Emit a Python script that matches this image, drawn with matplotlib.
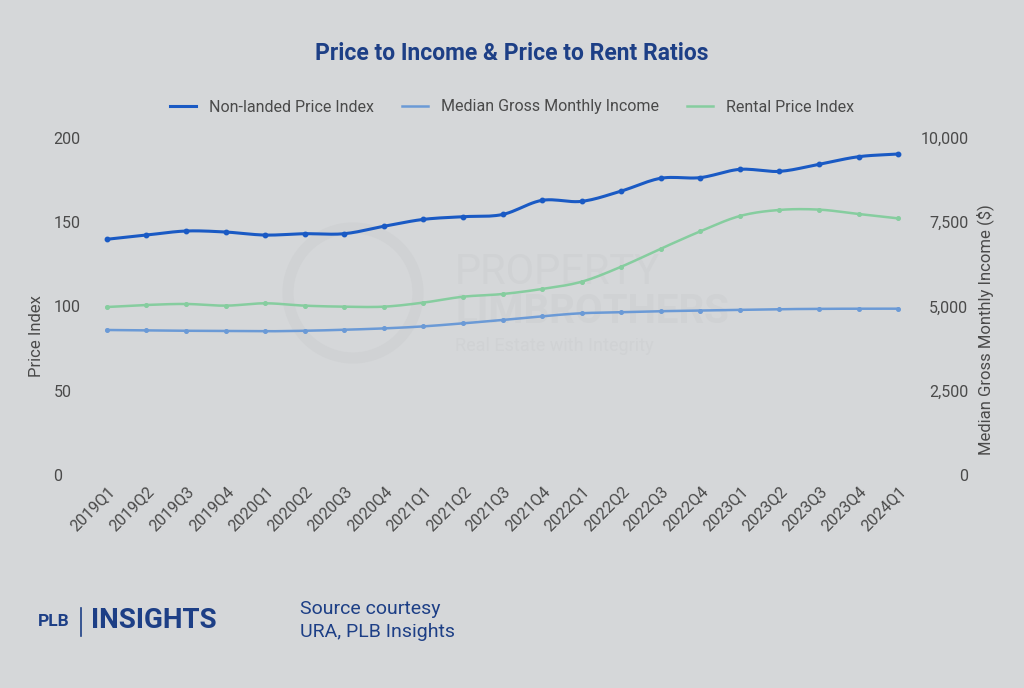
import numpy as np
import matplotlib.pyplot as plt
from matplotlib.patches import Ellipse

quarters = ['2019Q1', '2019Q2', '2019Q3', '2019Q4', '2020Q1', '2020Q2', '2020Q3',
            '2020Q4', '2021Q1', '2021Q2', '2021Q3', '2021Q4', '2022Q1', '2022Q2',
            '2022Q3', '2022Q4', '2023Q1', '2023Q2', '2023Q3', '2023Q4', '2024Q1']

price_index = [139.9, 142.4, 144.8, 144.2, 142.4, 143.2, 143.2, 147.6, 151.7, 153.3,
               154.6, 163.0, 162.4, 168.5, 176.1, 176.5, 181.4, 180.2, 184.4, 188.9, 190.5]

income = [4303, 4290, 4280, 4275, 4265, 4280, 4310, 4350, 4410, 4500, 4600,
          4710, 4800, 4830, 4860, 4880, 4900, 4920, 4930, 4935, 4935]

rental_index = [99.7, 100.9, 101.5, 100.5, 101.9, 100.5, 99.9, 99.9, 102.3, 105.8,
                107.4, 110.4, 114.7, 123.6, 134.3, 144.6, 153.7, 157.3, 157.5, 154.9, 152.3]

BG = '#d5d7d9'
NAVY = '#1d3f86'
C_PRICE = '#1a5ac4'
C_INC = '#6b9ad6'
C_RENT = '#86cd9f'
GREY = '#4a4a4a'
WM = '#d0d2d4'

plt.rcParams['font.family'] = ['Roboto', 'DejaVu Sans']


def smooth(x, y, n=12):
    # catmull-rom curve through the points, only for drawing
    x = np.asarray(x, float)
    y = np.asarray(y, float)
    px = np.concatenate([[2 * x[0] - x[1]], x, [2 * x[-1] - x[-2]]])
    py = np.concatenate([[2 * y[0] - y[1]], y, [2 * y[-1] - y[-2]]])
    xs, ys = [], []
    t = np.linspace(0, 1, n, endpoint=False)
    for i in range(1, len(px) - 2):
        for p, out in ((px, xs), (py, ys)):
            p0, p1, p2, p3 = p[i - 1], p[i], p[i + 1], p[i + 2]
            out.extend(0.5 * (2 * p1 + (-p0 + p2) * t + (2 * p0 - 5 * p1 + 4 * p2 - p3) * t ** 2
                              + (-p0 + 3 * p1 - 3 * p2 + p3) * t ** 3))
    xs.append(x[-1])
    ys.append(y[-1])
    return np.array(xs), np.array(ys)


fig = plt.figure(figsize=(10.24, 6.88), dpi=100, facecolor=BG)

# faint watermark, kept behind the axes
fig.patches.append(Ellipse((353 / 1024, 1 - 293 / 688), 130 / 1024, 130 / 688,
                           transform=fig.transFigure, fill=False, lw=8, ec=WM, zorder=-1))
fig.text(455 / 1024, 1 - 272 / 688, 'PROPERTY', fontsize=30, color=WM,
         va='center', ha='left', zorder=-1)
fig.text(455 / 1024, 1 - 312 / 688, 'LIMBROTHERS', fontsize=29, color=WM,
         fontweight='bold', va='center', ha='left', zorder=-1)
fig.text(455 / 1024, 1 - 346 / 688, 'Real Estate with Integrity', fontsize=13, color=WM,
         va='center', ha='left', zorder=-1)

ax = fig.add_axes([95 / 1024, 1 - 475 / 688, 815 / 1024, 337 / 688])
ax.set_facecolor('none')
ax2 = ax.twinx()
ax2.set_facecolor('none')

x = np.arange(len(quarters))

sx, sy = smooth(x, price_index)
ax.plot(sx, sy, color=C_PRICE, lw=2.2, label='Non-landed Price Index')
ax.plot(x, price_index, 'o', color=C_PRICE, ms=3.2)

sx, sy = smooth(x, rental_index)
ax.plot(sx, sy, color=C_RENT, lw=1.8, label='Rental Price Index')
ax.plot(x, rental_index, 'o', color=C_RENT, ms=2.6)

sx, sy = smooth(x, income)
ax2.plot(sx, sy, color=C_INC, lw=1.8, label='Median Gross Monthly Income')
ax2.plot(x, income, 'o', color=C_INC, ms=2.6)

ax.set_xlim(-0.3, 20.3)
ax.set_ylim(0, 200)
ax2.set_ylim(0, 10000)
ax.set_yticks([0, 50, 100, 150, 200])
ax2.set_yticks([0, 2500, 5000, 7500, 10000])
ax2.set_yticklabels(['0', '2,500', '5,000', '7,500', '10,000'])
ax.set_xticks(x)
ax.set_xticklabels(quarters, rotation=45, ha='right', rotation_mode='anchor')

for a in (ax, ax2):
    for s in a.spines.values():
        s.set_visible(False)
    a.tick_params(length=0, colors=GREY, labelsize=11.5)
ax.tick_params(axis='y', pad=30)
ax2.tick_params(axis='y', pad=42)
ax.tick_params(axis='x', pad=6)
for lab in ax.get_yticklabels():
    lab.set_ha('left')
for lab in ax2.get_yticklabels():
    lab.set_ha('right')

ax.set_ylabel('Price Index', fontsize=12, color=GREY, va='center')
ax.yaxis.set_label_coords((37 - 95) / 815, (475 - 336) / 337)
ax2.set_ylabel('Median Gross Monthly Income ($)', fontsize=12, color=GREY, va='center')
ax2.yaxis.set_label_coords((985 - 95) / 815, (475 - 330) / 337)

h1, l1 = ax.get_legend_handles_labels()
h2, l2 = ax2.get_legend_handles_labels()
handles = [h1[0], h2[0], h1[1]]
labels = [l1[0], l2[0], l1[1]]
fig.legend(handles, labels, loc='center', bbox_to_anchor=(0.5, 1 - 107 / 688), ncol=3,
           frameon=False, fontsize=11.5, labelcolor=GREY, handlelength=1.6,
           handletextpad=0.8, columnspacing=1.8)

fig.text(0.5, 1 - 53 / 688, 'Price to Income & Price to Rent Ratios', ha='center', va='center',
         fontsize=16.5, fontweight='bold', color=NAVY)

# footer
fig.text(38 / 1024, 1 - 622 / 688, 'PLB', fontsize=12.5, fontweight='bold', color=NAVY,
         va='center', ha='left')
fig.lines.append(plt.Line2D([81 / 1024, 81 / 1024], [1 - 608 / 688, 1 - 636 / 688],
                            transform=fig.transFigure, color=NAVY, lw=1.2))
fig.text(91 / 1024, 1 - 621 / 688, 'INSIGHTS', fontsize=20, fontweight='bold', color=NAVY,
         va='center', ha='left')
fig.text(300 / 1024, 1 - 609 / 688, 'Source courtesy', fontsize=14, color=NAVY,
         va='center', ha='left')
fig.text(300 / 1024, 1 - 632 / 688, 'URA, PLB Insights', fontsize=14, color=NAVY,
         va='center', ha='left')

fig.savefig('out.png', dpi=100, facecolor=BG)
